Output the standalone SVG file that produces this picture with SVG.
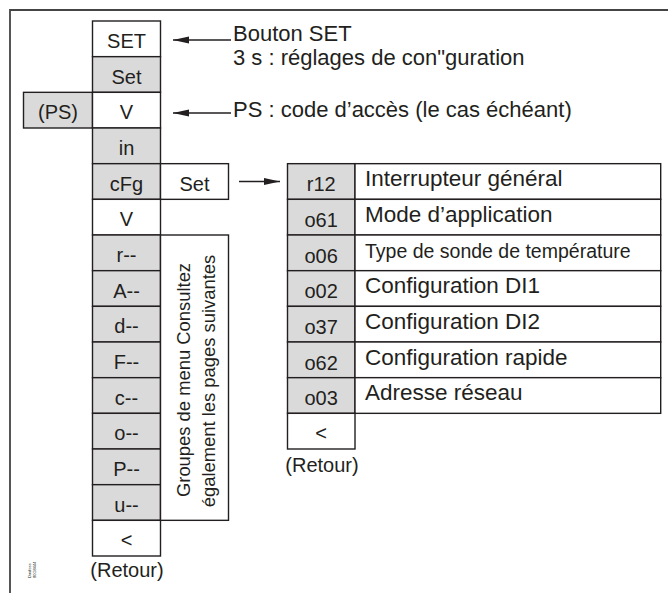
<svg xmlns="http://www.w3.org/2000/svg" width="668" height="593" viewBox="0 0 668 593">
<style>
.c{stroke:#231f20;stroke-width:1.4;fill:#fff}
.g{stroke:#231f20;stroke-width:1.4;fill:#dadadb}
text{font-family:"Liberation Sans",Arial,sans-serif;fill:#231f20}
.t{font-size:20px;text-anchor:middle}
.d{font-size:22.5px}
.a{font-size:22px}
.r{font-size:18.4px;text-anchor:middle}
.ln{stroke:#231f20;stroke-width:1.5;fill:none}
</style>
<defs>
<marker id="ah" markerWidth="16" markerHeight="8" refX="16" refY="4" orient="auto" markerUnits="userSpaceOnUse">
<path d="M0,0.6 L16,4 L0,7.4 Z" fill="#231f20"/>
</marker>
</defs>
<rect width="668" height="593" fill="#fff"/>
<path d="M10,593 V10 H668" stroke="#444" stroke-width="1.8" fill="none"/>

<g id="n-set-btn"><rect class="c" x="92.5" y="21" width="68" height="35.67"/><text class="t" x="126.5" y="48">SET</text></g>
<g id="n-set"><rect class="g" x="92.5" y="56.67" width="68" height="35.67"/><text class="t" x="126.5" y="83.7">Set</text></g>
<g id="n-ps"><rect class="g" x="23.5" y="92.33" width="69" height="35.67"/><text class="t" x="58" y="119.3">(PS)</text></g>
<g id="n-v1"><rect class="c" x="92.5" y="92.33" width="68" height="35.67"/><text class="t" x="126.5" y="119.3">V</text></g>
<g id="n-in"><rect class="g" x="92.5" y="128" width="68" height="35.67"/><text class="t" x="126.5" y="155">in</text></g>
<g id="n-cfg"><rect class="g" x="92.5" y="163.67" width="68" height="35.67"/><text class="t" x="126.5" y="190.7">cFg</text></g>
<g id="n-cfg-set"><rect class="c" x="160.5" y="163.67" width="68" height="35.67"/><text class="t" x="194.5" y="190.7">Set</text></g>
<g id="n-v2"><rect class="c" x="92.5" y="199.33" width="68" height="35.67"/><text class="t" x="126.5" y="226.3">V</text></g>
<g id="n-r"><rect class="g" x="92.5" y="235" width="68" height="35.67"/><text class="t" x="126.5" y="262">r--</text></g>
<g id="n-A"><rect class="g" x="92.5" y="270.67" width="68" height="35.67"/><text class="t" x="126.5" y="297.7">A--</text></g>
<g id="n-d"><rect class="g" x="92.5" y="306.33" width="68" height="35.67"/><text class="t" x="126.5" y="333.3">d--</text></g>
<g id="n-F"><rect class="g" x="92.5" y="342" width="68" height="35.67"/><text class="t" x="126.5" y="369">F--</text></g>
<g id="n-c"><rect class="g" x="92.5" y="377.67" width="68" height="35.67"/><text class="t" x="126.5" y="404.7">c--</text></g>
<g id="n-o"><rect class="g" x="92.5" y="413.33" width="68" height="35.67"/><text class="t" x="126.5" y="440.3">o--</text></g>
<g id="n-P"><rect class="g" x="92.5" y="449" width="68" height="35.67"/><text class="t" x="126.5" y="476">P--</text></g>
<g id="n-u"><rect class="g" x="92.5" y="484.67" width="68" height="35.67"/><text class="t" x="126.5" y="511.7">u--</text></g>
<g id="n-back1"><rect class="c" x="92.5" y="520.33" width="68" height="35.67"/><text class="t" x="126.5" y="547.3">&lt;</text><text class="t" x="127" y="577">(Retour)</text></g>
<g id="n-groups"><rect class="c" x="160.5" y="235" width="68" height="285.33"/>
<text class="r" transform="translate(189.5,380) rotate(-90)">Groupes de menu Consultez</text>
<text class="r" transform="translate(215,381) rotate(-90)">également les pages suivantes</text></g>

<g id="n-r12"><rect class="g" x="287.5" y="163.67" width="67.5" height="35.67"/><text class="t" x="321.2" y="191.2">r12</text><rect class="c" x="355" y="163.67" width="305.7" height="35.67"/><text class="d" x="365" y="186.3">Interrupteur général</text></g>
<g id="n-o61"><rect class="g" x="287.5" y="199.33" width="67.5" height="35.67"/><text class="t" x="321.2" y="226.8">o61</text><rect class="c" x="355" y="199.33" width="305.7" height="35.67"/><text class="d" x="365" y="222">Mode d’application</text></g>
<g id="n-o06"><rect class="g" x="287.5" y="235" width="67.5" height="35.67"/><text class="t" x="321.2" y="262.5">o06</text><rect class="c" x="355" y="235" width="305.7" height="35.67"/><text x="365" y="257.5" font-size="19.5">Type de sonde de température</text></g>
<g id="n-o02"><rect class="g" x="287.5" y="270.67" width="67.5" height="35.67"/><text class="t" x="321.2" y="298.2">o02</text><rect class="c" x="355" y="270.67" width="305.7" height="35.67"/><text class="d" x="365" y="293.3">Configuration DI1</text></g>
<g id="n-o37"><rect class="g" x="287.5" y="306.33" width="67.5" height="35.67"/><text class="t" x="321.2" y="333.8">o37</text><rect class="c" x="355" y="306.33" width="305.7" height="35.67"/><text class="d" x="365" y="329">Configuration DI2</text></g>
<g id="n-o62"><rect class="g" x="287.5" y="342" width="67.5" height="35.67"/><text class="t" x="321.2" y="369.5">o62</text><rect class="c" x="355" y="342" width="305.7" height="35.67"/><text class="d" x="365" y="364.7">Configuration rapide</text></g>
<g id="n-o03"><rect class="g" x="287.5" y="377.67" width="67.5" height="35.67"/><text class="t" x="321.2" y="405.2">o03</text><rect class="c" x="355" y="377.67" width="305.7" height="35.67"/><text class="d" x="365" y="400.3">Adresse réseau</text></g>
<g id="n-back2"><rect class="c" x="287.5" y="413.33" width="67.5" height="35.67"/><text class="t" x="321.2" y="440.3">&lt;</text><text class="t" x="322" y="472">(Retour)</text></g>

<g id="n-note-set"><text class="a" x="233" y="41">Bouton SET</text><text class="a" x="233" y="65">3 s : réglages de con"guration</text></g>
<g id="n-note-ps"><text class="a" x="233" y="116.5">PS : code d’accès (le cas échéant)</text></g>

<g id="connectors">
<line class="ln" x1="231" y1="40" x2="173" y2="40" marker-end="url(#ah)"/>
<line class="ln" x1="231" y1="113" x2="173" y2="113" marker-end="url(#ah)"/>
<line class="ln" x1="239" y1="181.5" x2="280" y2="181.5" marker-end="url(#ah)"/>
</g>

<g id="stamp"><text font-size="4" transform="translate(31,578) rotate(-90)">Danfoss</text><text font-size="4" transform="translate(36,578) rotate(-90)">80G8444</text></g>
</svg>
